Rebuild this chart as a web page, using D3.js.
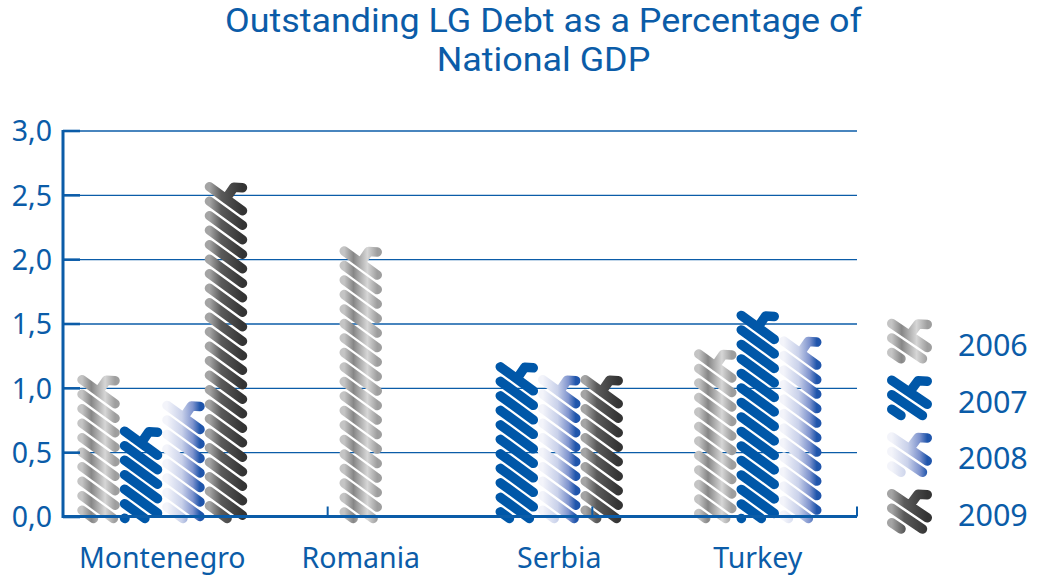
<!DOCTYPE html>
<html>
<head>
<meta charset="utf-8">
<script src="https://cdn.jsdelivr.net/npm/d3@7"></script>
<style>
  html, body { margin: 0; padding: 0; background: #ffffff; }
  svg { display: block; }
  text { font-family: "Noto Sans", "DejaVu Sans", sans-serif; fill: #0b5ca8; }
</style>
</head>
<body>
<svg id="chart" width="1041" height="575"></svg>
<script>
// ---- data ----
const categories = ["Montenegro", "Romania", "Serbia", "Turkey"];
const years = ["2006", "2007", "2008", "2009"];
const values2006 = [1.1, 2.1, null, 1.3];
const values2007 = [0.7, null, 1.2, 1.6];
const values2008 = [0.9, null, 1.1, 1.4];
const values2009 = [2.6, null, 1.1, null];
const yTickValues = [0, 0.5, 1.0, 1.5, 2.0, 2.5, 3.0];
const titleLines = ["Outstanding LG Debt as a Percentage of", "National GDP"];

const seriesValues = { "2006": values2006, "2007": values2007, "2008": values2008, "2009": values2009 };

// ---- layout ----
const plot = { left: 63, right: 857, top: 130.5, bottom: 516.5 };
const BLUE = "#0b5ca8";
const svg = d3.select("#chart");

// scribble paints: horizontal gradients across each bar
const paints = {
  "2006": [[0, "#c4c4c4"], [0.28, "#878787"], [0.7, "#d6d6d6"], [1, "#9e9e9e"]],
  "2007": [[0, "#0057a8"], [1, "#0057a8"]],
  "2008": [[0, "#f3f4fa"], [0.45, "#c9d1ea"], [0.78, "#7f94ce"], [1, "#1f55ab"]],
  "2009": [[0, "#a4a4a4"], [0.35, "#5b5b5b"], [1, "#343434"]]
};
const defs = svg.append("defs");
years.forEach(yr => {
  const g = defs.append("linearGradient")
    .attr("id", "paint" + yr)
    .attr("x1", "0%").attr("x2", "100%").attr("y1", "0%").attr("y2", "0%");
  paints[yr].forEach(([o, c]) => g.append("stop").attr("offset", o).attr("stop-color", c));
});

// ---- scales ----
const y = d3.scaleLinear().domain([0, 3]).range([plot.bottom, plot.top]);
const x = d3.scaleBand().domain(categories).range([plot.left, plot.right]).paddingInner(0).paddingOuter(0);
const slotWidth = x.bandwidth() * 0.214;
const xDivisions = d3.scaleLinear().domain([0, 3]).range([plot.left, plot.right]);

// ---- gridlines (behind bars) ----
svg.append("g")
  .attr("transform", `translate(${plot.left},0)`)
  .call(d3.axisRight(y).tickValues(yTickValues.filter(d => d > 0)).tickSize(plot.right - plot.left).tickFormat(""))
  .call(g => g.select(".domain").remove())
  .call(g => g.selectAll("line").attr("stroke", BLUE).attr("stroke-width", 1.3));

// ---- scribble marks ----
// a stack of thick "\" strokes with round ends and thin gaps between them
const STROKE = 9.5, GAP = 14.5, DROP = 24;
function scribblePath(x0, x1, yTop, yBot) {
  const r = STROKE / 2;
  const L = x0 + r, R = x1 - r, w = R - L;
  const top = yTop + r;
  const p = d3.path();
  // short flick at the top right, branching off the first stroke
  p.moveTo(L + w * 0.5, top + DROP * 0.5);
  p.lineTo(L + w * 0.74, top + 0.5);
  p.lineTo(R, top + 1);
  for (let i = 0; ; i++) {
    const ya = top + i * GAP;
    if (ya > yBot) break;
    const yb = ya + DROP;
    p.moveTo(L, ya);
    if (yb > yBot) p.lineTo(L + w * (yBot - ya) / DROP, yBot);
    else p.lineTo(R, yb);
  }
  return p.toString();
}

const barData = [];
categories.forEach((cat, i) => {
  const present = years.filter(yr => seriesValues[yr][i] != null);
  const groupW = present.length * slotWidth;
  const cx = x(cat) + x.bandwidth() / 2;
  const sub = d3.scaleBand().domain(present).range([cx - groupW / 2, cx + groupW / 2]);
  present.forEach(yr => {
    barData.push({ cat, yr, value: seriesValues[yr][i], x0: sub(yr), x1: sub(yr) + sub.bandwidth() });
  });
});

svg.append("g").selectAll("path")
  .data(barData)
  .join("path")
  .attr("d", d => scribblePath(d.x0, d.x1, y(d.value), y(0) + 2))
  .attr("fill", "none")
  .attr("stroke", d => `url(#paint${d.yr})`)
  .attr("stroke-width", STROKE)
  .attr("stroke-linejoin", "round")
  .attr("stroke-linecap", "round");

// ---- axes ----
svg.append("line")
  .attr("x1", plot.left).attr("x2", plot.right)
  .attr("y1", y(0)).attr("y2", y(0))
  .attr("stroke", BLUE).attr("stroke-width", 3);
svg.append("line")
  .attr("x1", plot.left).attr("x2", plot.left)
  .attr("y1", y(3) - 0.5).attr("y2", y(0) + 1.5)
  .attr("stroke", BLUE).attr("stroke-width", 3);

// short inner tick marks on the value axis
svg.append("g")
  .attr("transform", `translate(${plot.left},0)`)
  .call(d3.axisRight(y).tickValues(yTickValues).tickSize(17).tickFormat(""))
  .call(g => g.select(".domain").remove())
  .call(g => g.selectAll("line").attr("stroke", BLUE).attr("stroke-width", 2.6));

// value labels
svg.append("g")
  .attr("transform", `translate(${plot.left},0)`)
  .call(d3.axisLeft(y).tickValues(yTickValues).tickSize(0).tickPadding(11)
    .tickFormat(d => d3.format(".1f")(d).replace(".", ",")))
  .call(g => g.select(".domain").remove())
  .call(g => g.selectAll("text")
    .attr("fill", BLUE).attr("font-size", 28.5).attr("dy", "0.36em")
    .style("font-family", '"Noto Sans", sans-serif'));

// division ticks along the baseline
svg.append("g")
  .selectAll("line")
  .data(xDivisions.ticks(3).filter(d => d > 0))
  .join("line")
  .attr("x1", d => xDivisions(d)).attr("x2", d => xDivisions(d))
  .attr("y1", y(0)).attr("y2", y(0) - 10)
  .attr("stroke", BLUE).attr("stroke-width", 2);

// category labels
svg.append("g")
  .attr("transform", `translate(0,${y(0)})`)
  .call(d3.axisBottom(x).tickSize(0).tickPadding(0))
  .call(g => g.select(".domain").remove())
  .call(g => g.selectAll("text")
    .attr("fill", BLUE).attr("font-size", 28.5).attr("dy", null).attr("y", 51)
    .style("font-family", '"Noto Sans", sans-serif'));

// ---- title ----
const titleG = svg.append("g");
const titleSize = 33;
const titleCx = 543.5;
const t1 = titleG.append("text")
  .attr("x", titleCx).attr("y", 32).attr("text-anchor", "middle")
  .style("font-family", "Roboto, sans-serif")
  .attr("font-size", titleSize).text(titleLines[0]);
const t2 = titleG.append("text")
  .attr("x", titleCx).attr("y", 70.5).attr("text-anchor", "middle")
  .style("font-family", "Roboto, sans-serif")
  .attr("font-size", titleSize).text(titleLines[1]);
const natural1 = t1.node().getComputedTextLength();
const targetWidth = 637;
const k = targetWidth / natural1;
t1.attr("textLength", targetWidth).attr("lengthAdjust", "spacingAndGlyphs");
const n2 = t2.node().getComputedTextLength();
t2.attr("textLength", n2 * k).attr("lengthAdjust", "spacingAndGlyphs");

// ---- legend ----
const legendRow = d3.scaleBand().domain(years).range([300, 527]);
const legend = svg.append("g");
years.forEach(yr => {
  const base = legendRow(yr) + legendRow.bandwidth() - 1;
  legend.append("path")
    .attr("d", scribblePath(887, 932, base - 37, base + 3))
    .attr("fill", "none")
    .attr("stroke", `url(#paint${yr})`)
    .attr("stroke-width", STROKE)
    .attr("stroke-linejoin", "round")
    .attr("stroke-linecap", "round");
  legend.append("text")
    .attr("x", 958).attr("y", base)
    .attr("font-size", 30.5)
    .text(yr);
});
</script>
</body>
</html>
